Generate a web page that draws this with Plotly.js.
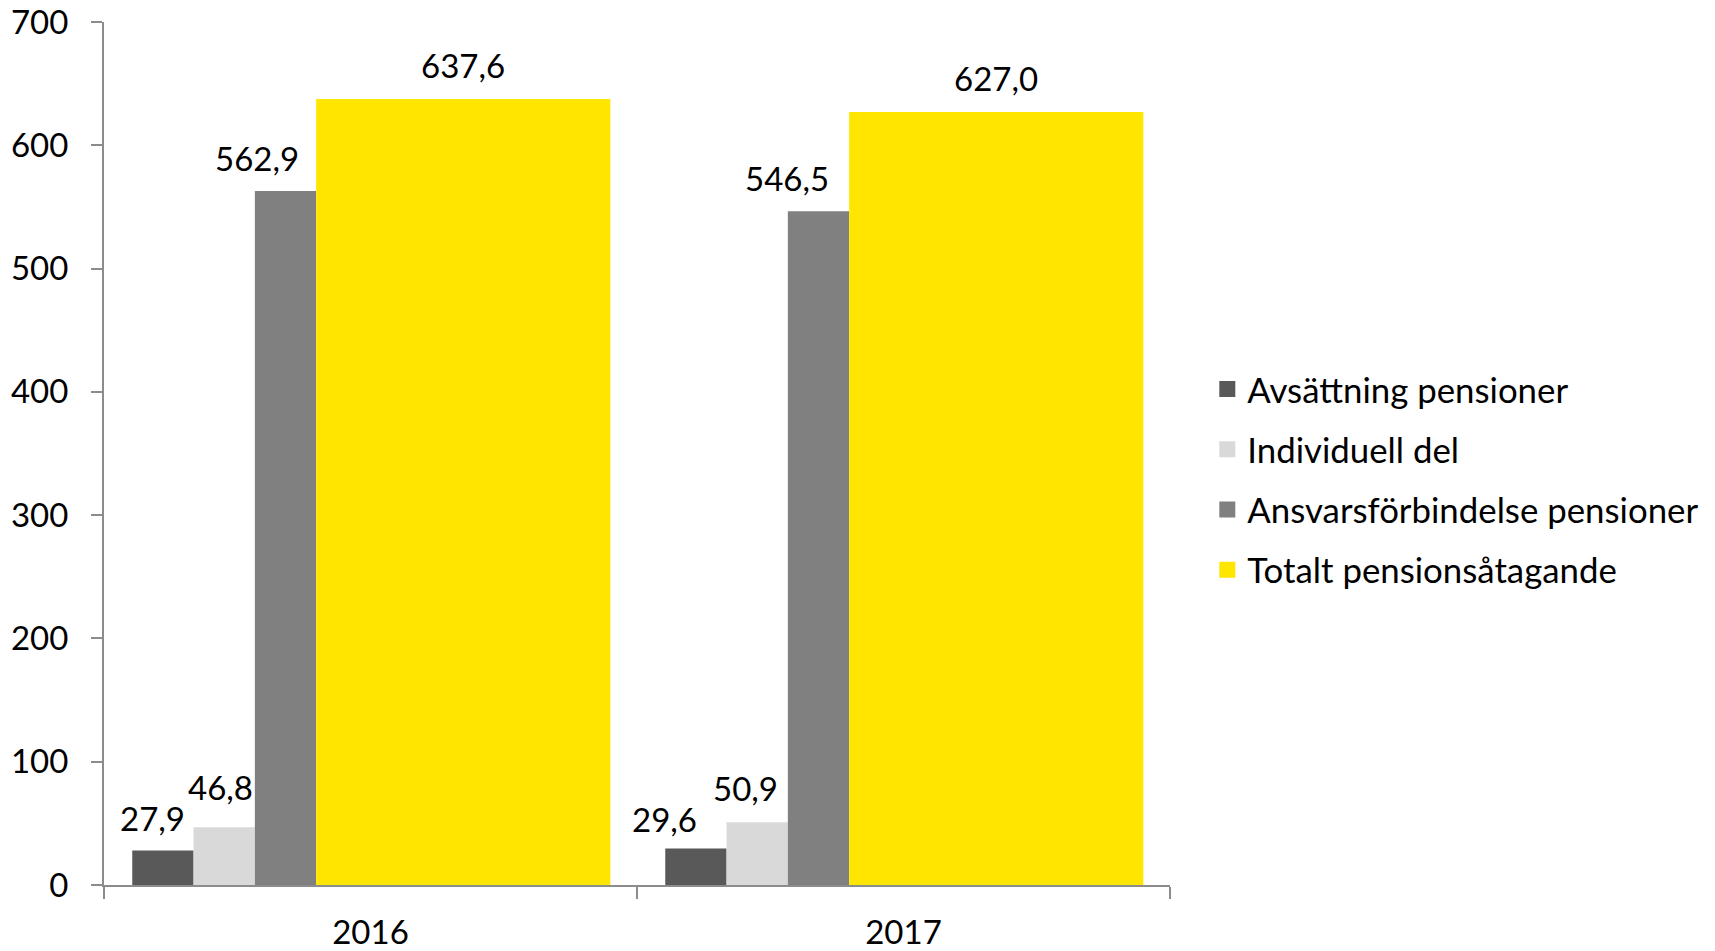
<!DOCTYPE html>
<html>
<head>
<meta charset="utf-8">
<script src="https://cdn.plot.ly/plotly-3.0.1.min.js"></script>
<style>html,body{margin:0;padding:0;background:#fff;}#chart{width:1715px;height:951px;}</style>
</head>
<body>
<div id="chart"></div>
<script>
const categories = ['2016', '2017'];
const seriesNames = ['Avsättning pensioner', 'Individuell del', 'Ansvarsförbindelse pensioner', 'Totalt pensionsåtagande'];
const avsattning = [27.9, 29.6];
const individuell = [46.8, 50.9];
const ansvarsforbindelse = [562.9, 546.5];
const totalt = [637.6, 627.0];
const yTicks = [0, 100, 200, 300, 400, 500, 600, 700];

// styling
const colors = ['#595959', '#D9D9D9', '#808080', '#FFE600'];
const offsets = [-0.447, -0.332, -0.217, -0.102];
const widths = [0.115, 0.115, 0.115, 0.552];
// label pixel nudges [series][category]
const labelDx = [[-10, -31], [-4, -12], [-28, -31], [0, 0]];
const labelDy = [[11, 8], [18, 12], [11, 11], [12, 12]];

const allValues = [avsattning, individuell, ansvarsforbindelse, totalt];
const fmt = v => v.toFixed(1).replace('.', ',');
const FONT = 'Lato, "Open Sans", sans-serif';

const traces = allValues.map((vals, i) => ({
  type: 'bar',
  name: seriesNames[i],
  x: categories,
  y: vals,
  offset: offsets[i],
  width: widths[i],
  marker: {color: colors[i], line: {width: 0}},
  showlegend: false,
  hoverinfo: 'skip'
}));

// legend-only entries with larger square swatches
seriesNames.forEach((name, i) => {
  traces.push({
    type: 'scatter',
    mode: 'markers',
    name: name,
    x: [null],
    y: [null],
    marker: {symbol: 'square', color: colors[i], size: 20},
    legendgroup: 'g' + i,
    showlegend: true,
    hoverinfo: 'skip'
  });
});

const annotations = [];
allValues.forEach((vals, i) => {
  vals.forEach((v, j) => {
    annotations.push({
      xref: 'x', yref: 'y',
      x: j + offsets[i] + widths[i] / 2,
      y: v,
      text: fmt(v),
      showarrow: false,
      xanchor: 'center', yanchor: 'bottom',
      xshift: labelDx[i][j], yshift: labelDy[i][j],
      font: {family: FONT, size: 33, color: '#000'}
    });
  });
});

const layout = {
  width: 1715,
  height: 951,
  margin: {l: 104, r: 545, t: 22, b: 66, autoexpand: false},
  paper_bgcolor: '#fff',
  plot_bgcolor: '#fff',
  barmode: 'overlay',
  font: {family: FONT, size: 33, color: '#000'},
  showlegend: true,
  annotations: annotations,
  legend: {
    x: 1.035, xanchor: 'left', y: 0.47, yanchor: 'middle',
    font: {family: FONT, size: 34.8, color: '#000'},
    traceorder: 'grouped', tracegroupgap: 12,
    itemsizing: 'trace',
    bgcolor: 'rgba(0,0,0,0)'
  },
  xaxis: {
    type: 'category',
    range: [-0.5, 1.5],
    automargin: false,
    showline: true, linecolor: '#8c8c8c', linewidth: 2,
    ticks: 'outside', tickson: 'boundaries', ticklen: 12, tickcolor: '#8c8c8c', tickwidth: 2,
    showgrid: false, zeroline: false,
    ticklabelstandoff: 17,
    tickfont: {family: FONT, size: 33, color: '#000'}
  },
  yaxis: {
    range: [0, 700],
    automargin: false,
    tickvals: yTicks,
    ticktext: yTicks.map(String),
    showline: true, linecolor: '#8c8c8c', linewidth: 2,
    ticks: 'outside', ticklen: 11, tickcolor: '#8c8c8c', tickwidth: 2,
    showgrid: false, zeroline: false,
    ticklabelstandoff: 16,
    tickfont: {family: FONT, size: 33, color: '#000'}
  }
};

Plotly.newPlot('chart', traces, layout, {displayModeBar: false, staticPlot: true});
</script>
</body>
</html>
